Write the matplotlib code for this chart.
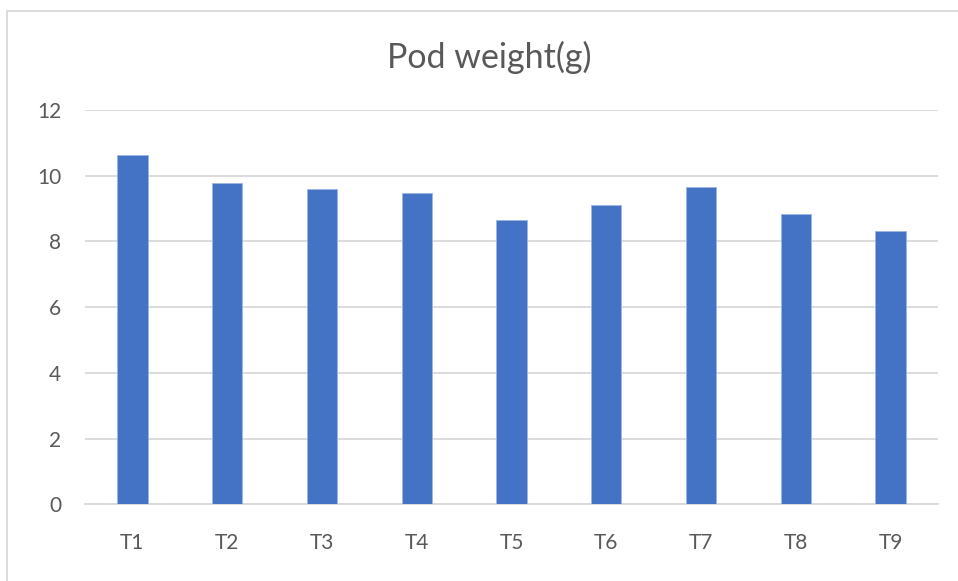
import matplotlib
matplotlib.use("Agg")
import matplotlib.pyplot as plt
from matplotlib.patches import Rectangle

treatments = ["T1", "T2", "T3", "T4", "T5", "T6", "T7", "T8", "T9"]
pod_weight = [10.63, 9.78, 9.59, 9.47, 8.66, 9.11, 9.67, 8.84, 8.33]

plt.rcParams["font.family"] = ["Lato", "DejaVu Sans"]
text_color = "#595959"

fig = plt.figure(figsize=(9.58, 5.81), dpi=100)
ax = fig.add_axes([85 / 958, 1 - 504.3 / 581, 853 / 958, 394.3 / 581])

x = range(len(treatments))
ax.bar(x, pod_weight, width=0.32, color="#4472C4", edgecolor="#9DB5E2",
       linewidth=0.6, zorder=3)

ax.set_xlim(-0.5, len(treatments) - 0.5)
ax.set_ylim(0, 12)
ax.set_yticks(range(0, 13, 2))
ax.set_xticks(list(x))
ax.set_xticklabels(treatments)
ax.grid(axis="y", color="#D9D9D9", linewidth=1.3, zorder=0)
for s in ["top", "right", "left"]:
    ax.spines[s].set_visible(False)
ax.spines["bottom"].set_color("#D9D9D9")
ax.spines["bottom"].set_linewidth(1.3)
ax.tick_params(axis="both", length=0, labelsize=15, colors=text_color)
ax.tick_params(axis="x", pad=21)
ax.tick_params(axis="y", pad=17)

fig.text(489 / 958, 1 - 57 / 581, "Pod weight(g)", ha="center", va="center",
         fontsize=24.5, color=text_color)

# chart border
fig.patches.append(Rectangle((7 / 958, -0.1), 1.1, 1 - 11 / 581 + 0.1,
                             transform=fig.transFigure, fill=False,
                             edgecolor="#D9D9D9", linewidth=1.3))

fig.savefig("out.png", dpi=100)
